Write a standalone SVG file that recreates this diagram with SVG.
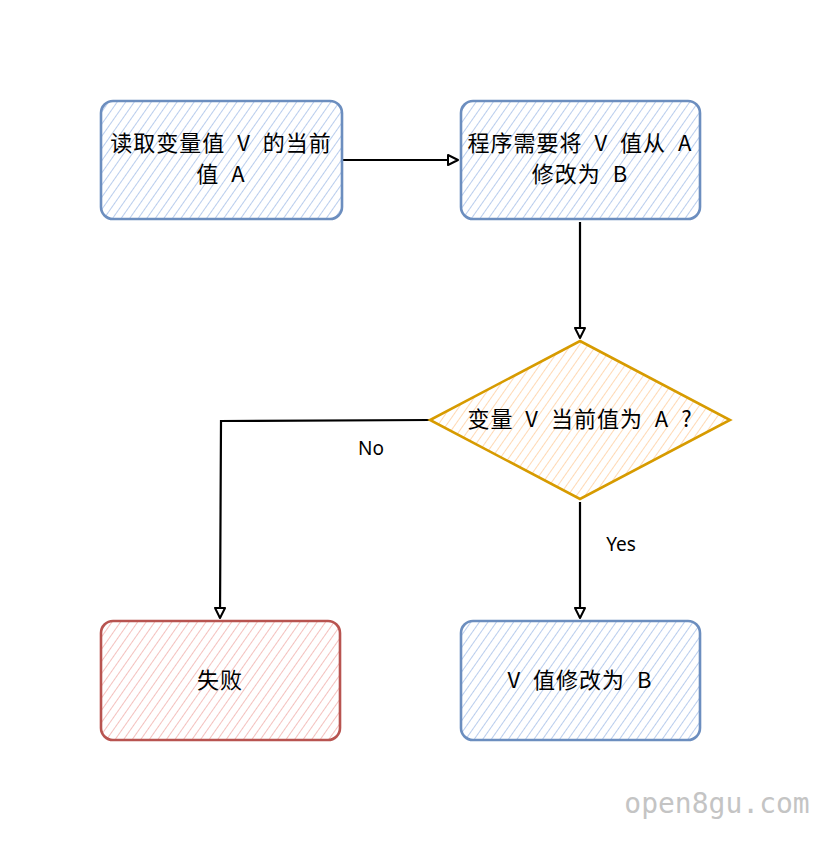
<svg xmlns="http://www.w3.org/2000/svg" width="832" height="842" viewBox="0 0 832 842">
<defs>
<pattern id="hBlue" width="7" height="7" patternUnits="userSpaceOnUse" patternTransform="rotate(35)"><line x1="0" y1="0" x2="0" y2="7" stroke="#9ab8e6" stroke-width="1.4"/></pattern>
<pattern id="hOrange" width="7" height="7" patternUnits="userSpaceOnUse" patternTransform="rotate(35)"><line x1="0" y1="0" x2="0" y2="7" stroke="#ffc994" stroke-width="1.4"/></pattern>
<pattern id="hRed" width="7" height="7" patternUnits="userSpaceOnUse" patternTransform="rotate(35)"><line x1="0" y1="0" x2="0" y2="7" stroke="#f0a6a2" stroke-width="1.4"/></pattern>
<marker id="arr" markerWidth="14" markerHeight="14" refX="11" refY="6" orient="auto" markerUnits="userSpaceOnUse"><path d="M1,1 L11,6 L1,11 Z" fill="#fff" stroke="#000" stroke-width="2" stroke-linejoin="round"/></marker>
</defs>
<style>
.t{font-family:"Noto Sans CJK SC","Noto Sans",sans-serif;font-size:22px;fill:#000;text-anchor:middle;word-spacing:6px;letter-spacing:1px}
.lbl{font-family:"Noto Sans","Noto Sans CJK SC",sans-serif;font-size:19px;fill:#000;text-anchor:middle}
.blue{fill:url(#hBlue);stroke:#6c8ebf;stroke-width:2.6}
.orange{fill:url(#hOrange);stroke:#d79b00;stroke-width:2.6}
.red{fill:url(#hRed);stroke:#b85450;stroke-width:2.6}
.c{fill:none;stroke:#000;stroke-width:2.2;marker-end:url(#arr)}
.wm{font-family:"DejaVu Sans Mono","Liberation Mono",monospace;font-size:28px;fill:#c4c4c4;text-anchor:middle}
</style>
<rect width="832" height="842" fill="#fff"/>
<g id="connectors">
<path class="c" d="M342,160 L458,160"/>
<path class="c" d="M580,222 L580,338"/>
<path class="c" d="M430,420 L221,421 L220,618"/>
<path class="c" d="M580,502 L580,618"/>
<text class="lbl" x="371" y="455">No</text>
<text class="lbl" x="621" y="551">Yes</text>
</g>
<g id="n1"><rect class="blue" x="101" y="101" width="241" height="118" rx="12"/><text class="t" x="221" y="151">读取变量值 V 的当前</text><text class="t" x="221" y="182">值 A</text></g>
<g id="n2"><rect class="blue" x="461" y="101" width="239" height="118" rx="12"/><text class="t" x="580" y="151">程序需要将 V 值从 A</text><text class="t" x="580" y="182">修改为 B</text></g>
<g id="n3"><path class="orange" d="M580,341 L730,420 L580,499 L430,420 Z"/><text class="t" x="580" y="427">变量 V 当前值为 A ?</text></g>
<g id="n4"><rect class="red" x="101" y="621" width="239" height="119" rx="12"/><text class="t" x="220" y="688">失败</text></g>
<g id="n5"><rect class="blue" x="461" y="621" width="239" height="119" rx="12"/><text class="t" x="580" y="688">V 值修改为 B</text></g>
<text class="wm" x="717" y="813">open8gu.com</text>
</svg>
